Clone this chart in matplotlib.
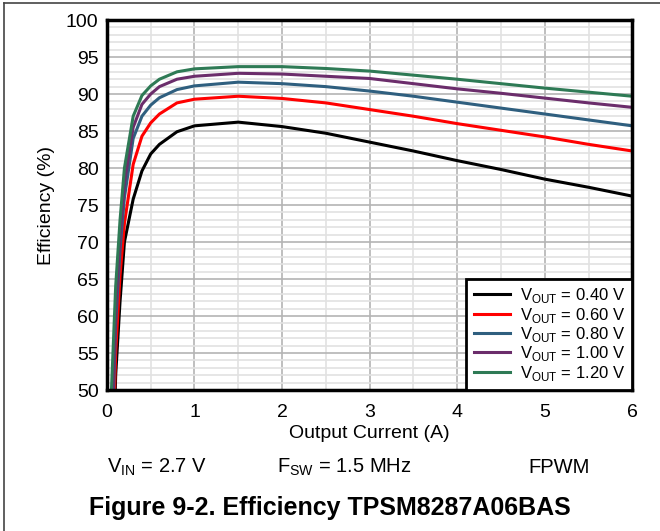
import matplotlib
matplotlib.use("Agg")
import matplotlib.pyplot as plt
from matplotlib.lines import Line2D
from matplotlib.ticker import MultipleLocator

plt.rcParams['font.family'] = ['Liberation Sans', 'DejaVu Sans']
plt.rcParams['mathtext.fontset'] = 'custom'
plt.rcParams['mathtext.rm'] = 'Liberation Sans'

# output current (A)
current = [0.05, 0.1, 0.15, 0.2, 0.3, 0.4, 0.5, 0.6, 0.8, 1.0, 1.5, 2.0,
           2.5, 3.0, 3.5, 4.0, 4.5, 5.0, 5.5, 6.0]

# efficiency (%) per output voltage
eff_040 = [30, 52, 62, 70, 75.8, 79.6, 81.9, 83.2, 84.9, 85.7, 86.2, 85.6,
           84.7, 83.5, 82.3, 81.0, 79.8, 78.5, 77.4, 76.2]
eff_060 = [35, 55, 65.5, 72.5, 80.5, 84.3, 86.1, 87.3, 88.8, 89.3, 89.7, 89.4,
           88.8, 87.9, 87.0, 86.0, 85.1, 84.2, 83.2, 82.3]
eff_080 = [40, 59, 69, 76, 84, 87, 88.5, 89.5, 90.6, 91.1, 91.6, 91.4,
           91.0, 90.4, 89.7, 88.9, 88.1, 87.3, 86.5, 85.7]
eff_100 = [43, 61, 71, 78, 85.5, 88.6, 90.0, 91.0, 92.0, 92.4, 92.8, 92.7,
           92.4, 92.1, 91.4, 90.7, 90.1, 89.45, 88.8, 88.2]
eff_120 = [49.5, 64, 73, 80, 87, 89.8, 91.1, 92.0, 93.0, 93.4, 93.7, 93.7,
           93.45, 93.1, 92.55, 92.0, 91.4, 90.8, 90.25, 89.7]

labels = ['0.40', '0.60', '0.80', '1.00', '1.20']
series = [eff_040, eff_060, eff_080, eff_100, eff_120]
colors = ['#000000', '#ff0000', '#2f5f7f', '#6b2d6b', '#2e7a55']

fig = plt.figure(figsize=(6.6, 5.31), dpi=100)
ax = fig.add_axes([0.162, 0.2655, 0.796, 0.6968])

for y, lab, c in zip(series, labels, colors):
    ax.plot(current, y, color=c, lw=2.2,
            label=r'V$_{\mathregular{OUT}}$ = ' + lab + ' V')

ax.set_xlim(0, 6)
ax.set_ylim(50, 100)
ax.xaxis.set_major_locator(MultipleLocator(1))
ax.xaxis.set_minor_locator(MultipleLocator(0.5))
ax.yaxis.set_major_locator(MultipleLocator(5))
ax.yaxis.set_minor_locator(MultipleLocator(1))
ax.grid(which='major', color='#b4b4b4', lw=1.2)
ax.grid(which='minor', color='#e2e2e2', lw=1.2)
ax.set_axisbelow(True)
ax.tick_params(which='both', length=0, labelsize=14)
ax.tick_params(axis='x', pad=10)
ax.tick_params(axis='y', pad=6)
for s in ax.spines.values():
    s.set_linewidth(2.5)
    s.set_color('black')

ax.set_xlabel('Output Current (A)', fontsize=14, labelpad=3)
ax.set_ylabel('Efficiency (%)', fontsize=14, labelpad=8)

leg = ax.legend(loc='lower right', fontsize=12, frameon=True, fancybox=False,
                borderaxespad=0, handlelength=2.2, labelspacing=0.02,
                borderpad=0.45, handletextpad=0.55)
leg.get_frame().set_edgecolor('black')
leg.get_frame().set_linewidth(2)
leg.get_frame().set_alpha(1)

fig.text(0.162, 0.12, r'V$_{\mathregular{IN}}$ = 2.7 V', fontsize=14.5, va='center')
fig.text(0.42, 0.12, r'F$_{\mathregular{SW}}$ = 1.5 MHz', fontsize=14.5, va='center')
fig.text(0.80, 0.12, 'FPWM', fontsize=14.5, va='center')
fig.text(0.5, 0.043, 'Figure 9-2. Efficiency TPSM8287A06BAS', fontsize=18,
         fontweight='bold', ha='center', va='center')

# outer frame (top and left edges)
fig.add_artist(Line2D([0.006, 0.006], [0, 0.994], color='#444444', lw=1.2))
fig.add_artist(Line2D([0.006, 1], [0.994, 0.994], color='#444444', lw=1.2))

fig.savefig('out.png', dpi=100)
